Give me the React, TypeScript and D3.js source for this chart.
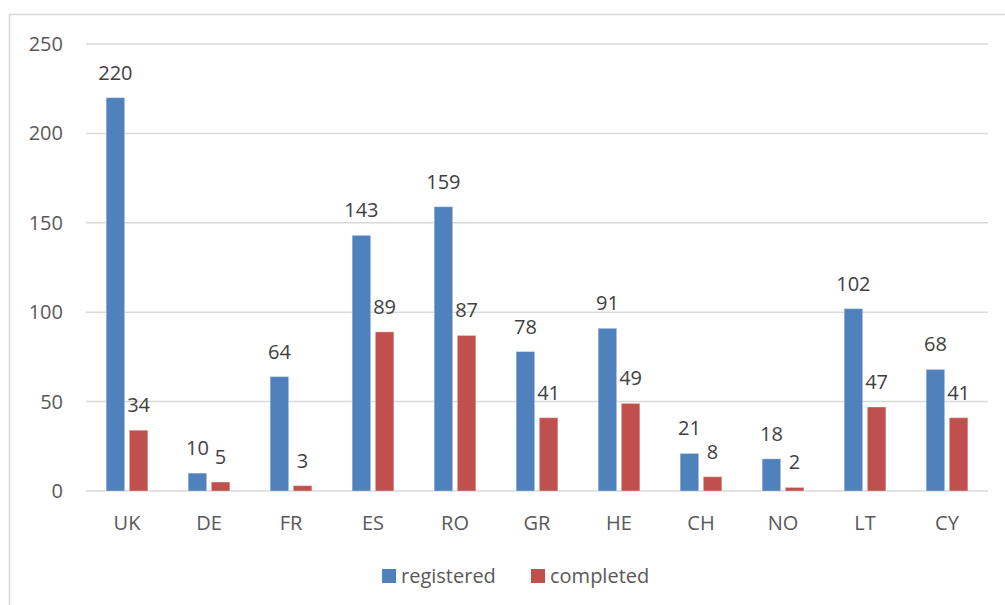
import React from "react";
import * as d3 from "d3";

const categories = ["UK", "DE", "FR", "ES", "RO", "GR", "HE", "CH", "NO", "LT", "CY"];
const registered = [220, 10, 64, 143, 159, 78, 91, 21, 18, 102, 68];
const completed = [34, 5, 3, 89, 87, 41, 49, 8, 2, 47, 41];
const yTicks = [0, 50, 100, 150, 200, 250];
const seriesNames = ["registered", "completed"];
const colors = ["#4F81BD", "#C0504D"];

const W = 1005;
const H = 605;
const FONT = "'Open Sans', 'Liberation Sans', sans-serif";
const FS = 20;

export default function App() {
  const x = d3.scaleBand<string>().domain(categories).range([86, 988]);
  const y = d3.scaleLinear().domain([0, 250]).range([491, 44]);
  const inner = d3.scaleBand<string>().domain(seriesNames).range([0, x.bandwidth()]).paddingInner(0.2).paddingOuter(0.87);
  const series = [registered, completed];

  return (
    <svg width={W} height={H} style={{ position: "absolute", left: 0, top: 0, background: "#fff" }}>
      <rect x={9.5} y={14.5} width={1010} height={610} fill="#fff" stroke="#d9d9d9" strokeWidth={1.5} />
      {yTicks.map((t) => (
        <g key={t}>
          <line x1={86} x2={988} y1={y(t)} y2={y(t)} stroke="#d9d9d9" strokeWidth={1.5} />
          <text x={63} y={y(t)} dy="0.35em" textAnchor="end" fontFamily={FONT} fontSize={FS} fill="#595959">
            {t}
          </text>
        </g>
      ))}
      {series.map((vals, si) =>
        vals.map((v, i) => {
          const c = categories[i];
          const bx = (x(c) as number) + (inner(seriesNames[si]) as number);
          const bw = inner.bandwidth();
          return (
            <g key={`${si}-${i}`}>
              <rect x={bx} y={y(v)} width={bw} height={y(0) - y(v)} fill={colors[si]} stroke="#ffffff" strokeOpacity={0.35} strokeWidth={1} />
              <text x={bx + bw / 2} y={y(v) - 18} textAnchor="middle" fontFamily={FONT} fontSize={FS} fill="#404040">
                {v}
              </text>
            </g>
          );
        })
      )}
      {categories.map((c) => (
        <text key={c} x={(x(c) as number) + x.bandwidth() / 2} y={523} dy="0.35em" textAnchor="middle" fontFamily={FONT} fontSize={FS} fill="#595959">
          {c}
        </text>
      ))}
      <g>
        <rect x={382} y={569} width={14} height={14} fill={colors[0]} />
        <text x={401} y={576} dy="0.35em" fontFamily={FONT} fontSize={FS} fill="#595959">
          {seriesNames[0]}
        </text>
        <rect x={531} y={569} width={14} height={14} fill={colors[1]} />
        <text x={550} y={576} dy="0.35em" fontFamily={FONT} fontSize={FS} fill="#595959">
          {seriesNames[1]}
        </text>
      </g>
    </svg>
  );
}
